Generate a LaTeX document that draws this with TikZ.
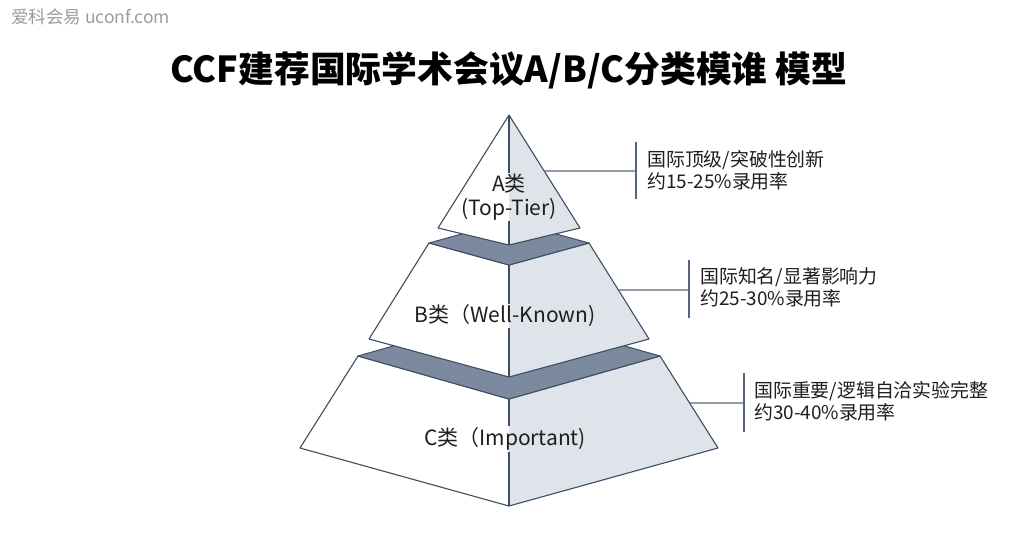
\documentclass[tikz,border=0pt]{standalone}
\usepackage{fontspec}
\setmainfont{Noto Sans CJK SC}
\usetikzlibrary{calc}
\definecolor{edgec}{HTML}{3F4D63}
\definecolor{bandc}{HTML}{7B8A9E}
\definecolor{facer}{HTML}{DFE3EA}
\definecolor{linkc}{HTML}{56667C}
\definecolor{txtc}{HTML}{1E1E1E}
\definecolor{wmc}{HTML}{9C9C9C}
\begin{document}
\begin{tikzpicture}[x=1pt,y=-1pt,
  outline/.style={draw=edgec,line width=1.1pt,line join=round},
  bandfill/.style={fill=bandc,draw=edgec,line width=1pt,line join=round},
  rface/.style={fill=facer},
  lface/.style={fill=white},
  midline/.style={draw=edgec,line width=1.1pt},
  link/.style={draw=linkc,line width=1.2pt},
  lab/.style={font=\fontsize{21}{25}\selectfont,text=txtc,inner sep=1pt},
  info/.style={font=\fontsize{18.9}{22}\selectfont,text=txtc,align=left,anchor=west,inner sep=0pt},
  ttl/.style={font=\fontsize{35.8}{42}\selectfont\bfseries,text=black,inner sep=0pt},
  wm/.style={font=\fontsize{17.5}{20}\selectfont,text=wmc,anchor=west,inner sep=0pt}]
\useasboundingbox (0,0) rectangle (1012,542);
\fill[white] (0,0) rectangle (1012,542);

% coordinates
\coordinate (Aap) at (509,115);
\coordinate (Al) at (438,228); \coordinate (Af) at (509,245); \coordinate (Ar) at (580,228);
\coordinate (Bbl) at (429,243); \coordinate (Bbf) at (509,265); \coordinate (Bbr) at (589,243); \coordinate (Bbb) at (509,221);
\coordinate (Bl) at (369,339); \coordinate (Bf) at (509,377); \coordinate (Br) at (649,339);
\coordinate (Cbl) at (358,356); \coordinate (Cbf) at (509,399); \coordinate (Cbr) at (660,356); \coordinate (Cbb) at (509,313);
\coordinate (Cl) at (300,448); \coordinate (Cf) at (509,506); \coordinate (Cr) at (718,448);

% tier C
\fill[lface] (Cbl) -- (Cbf) -- (Cf) -- (Cl) -- cycle;
\fill[rface] (Cbf) -- (Cbr) -- (Cr) -- (Cf) -- cycle;
\draw[outline] (Cbl) -- (Cbf) -- (Cbr) -- (Cr) -- (Cf) -- (Cl) -- cycle;
\draw[bandfill] (Cbl) -- (Cbf) -- (Cbr) -- (Cbb) -- cycle;
% tier B
\fill[lface] (Bbl) -- (Bbf) -- (Bf) -- (Bl) -- cycle;
\fill[rface] (Bbf) -- (Bbr) -- (Br) -- (Bf) -- cycle;
\draw[outline] (Bbl) -- (Bbf) -- (Bbr) -- (Br) -- (Bf) -- (Bl) -- cycle;
\draw[bandfill] (Bbl) -- (Bbf) -- (Bbr) -- (Bbb) -- cycle;
% tier A
\fill[lface] (Aap) -- (Af) -- (Al) -- cycle;
\fill[rface] (Aap) -- (Ar) -- (Af) -- cycle;
\draw[outline] (Aap) -- (Ar) -- (Af) -- (Al) -- cycle;

% labels
\node[lab] (la1) at (509,184) {A类};
\node[lab] (la2) at (509,209) {(Top-Tier)};
\node[lab] (lb) at (505,316) {B类（Well-Known)};
\node[lab] (lc) at (505,439) {C类（Important)};

% centre lines
\draw[midline] (Aap) -- (la1.north);
\draw[midline] (la2.south) -- (Af);
\draw[midline] (Bbf) -- (Bbf |- lb.north);
\draw[midline] (Bbf |- lb.south) -- (Bf);
\draw[midline] (Cbf) -- (Cbf |- lc.north);
\draw[midline] (Cbf |- lc.south) -- (Cf);

% connectors
\coordinate (ka) at (636,171); \coordinate (ka0) at (0,171);
\coordinate (kb) at (689,290); \coordinate (kb0) at (0,290);
\coordinate (kc) at (744,403); \coordinate (kc0) at (0,403);
\draw[link] (intersection of Aap--Ar and ka--ka0) -- (ka);
\draw[link] ($(ka)+(0,-29)$) -- ($(ka)+(0,28)$);
\draw[link] (intersection of Bbr--Br and kb--kb0) -- (kb);
\draw[link] ($(kb)+(0,-30)$) -- ($(kb)+(0,28)$);
\draw[link] (intersection of Cbr--Cr and kc--kc0) -- (kc);
\draw[link] ($(kc)+(0,-30)$) -- ($(kc)+(0,29)$);

\node[info] (ta) at (647,170) {国际顶级/突破性创新\\约15-25\%录用率};
\node[info] (tb) at (700,287) {国际知名/显著影响力\\约25-30\%录用率};
\node[info] (tc) at (754,401) {国际重要/逻辑自洽实验完整\\约30-40\%录用率};

% title and watermark
\node[ttl] (title) at (509,70) {CCF建荐国际学术会议A/B/C分类模谁 模型};
\node[wm] (wmark) at (11,17) {爱科会易 uconf.com};
\end{tikzpicture}
\end{document}
